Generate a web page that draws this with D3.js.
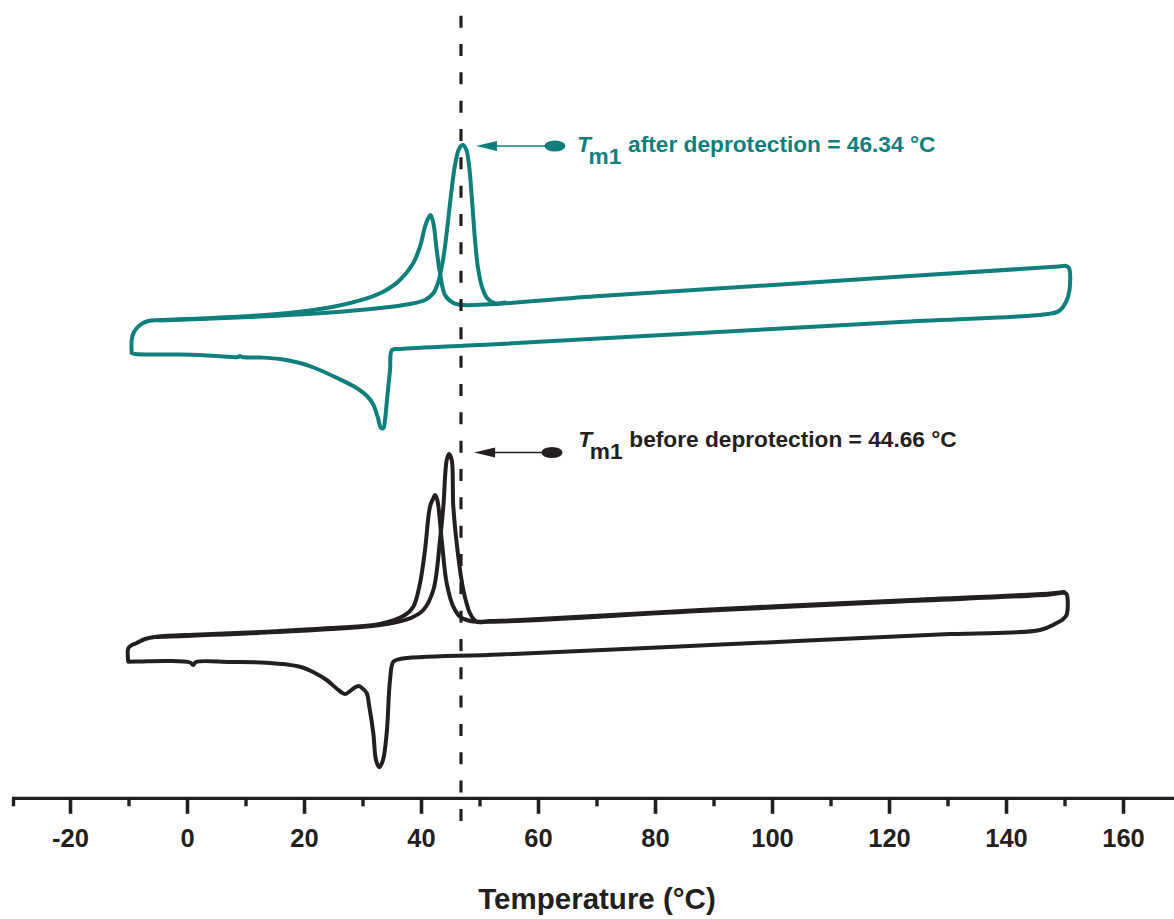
<!DOCTYPE html>
<html>
<head>
<meta charset="utf-8">
<script src="https://cdn.jsdelivr.net/npm/d3@7"></script>
<style>
  html, body { margin: 0; padding: 0; background: #fff; }
  svg { display: block; }
  text { font-family: "Liberation Sans", Arial, Helvetica, sans-serif; font-weight: bold; }
</style>
</head>
<body>
<svg id="chart" width="1174" height="919"></svg>
<script>
// ---------- DATA (temperature °C, heat flow in arbitrary units) ----------
// After deprotection (teal): heating run 1 + cooling run form a closed loop
const afterLoopT = [-9.54,-9.54,-9.15,-8.12,-6.75,-4.70,2.14,10.68,19.23,24.92,30.63,33.47,36.32,38.60,39.74,40.60,41.16,41.54,42.02,42.60,43.16,44.02,45.38,47.09,70.51,104.70,148.90,150.17,150.68,150.77,150.17,148.97,147.09,121.79,87.61,53.42,36.32,34.96,34.62,34.10,33.76,33.50,33.08,32.56,31.71,30.68,28.63,25.21,21.79,19.23,15.81,12.39,9.32,8.97,8.63,2.14,-2.99,-8.97,-9.54];
const afterLoopHF = [44.7,46.0,46.8,47.5,47.9,48.0,48.15,48.4,48.83,49.33,50.17,50.83,52.0,53.7,55.33,57.33,58.2,58.5,57.7,55.0,52.7,50.5,49.73,49.5,50.39,51.68,53.35,53.4,53.2,51.0,49.8,48.9,48.6,47.8,46.7,45.6,45.1,45.0,43.0,40.0,38.0,37.2,37.2,38.2,39.6,40.4,41.3,42.3,43.2,43.7,44.1,44.25,44.3,44.4,44.3,44.5,44.55,44.6,44.7];
// After deprotection: heating run 2 (Tm1 peak)
const afterHeat2T = [-4.70,10.68,24.36,32.91,38.03,40.60,42.02,42.87,43.73,44.36,45.04,45.73,46.41,47.04,47.61,48.12,48.63,49.15,49.66,50.34,51.20,52.56,54.27];
const afterHeat2HF = [47.95,48.3,48.75,49.2,49.6,50.0,50.67,51.8,54.2,57.0,60.5,63.5,65.1,65.5,65.1,63.5,60.0,56.0,53.2,51.3,50.2,49.68,49.745];

// Before deprotection (black): heating run 1 + cooling run loop
const beforeLoopT = [-10.12,-10.12,-9.49,-8.68,-7.26,-5.26,2.14,13.54,24.36,32.91,37.18,38.60,39.74,40.60,41.45,42.02,42.31,42.70,43.45,44.31,45.44,46.58,47.73,49.44,87.61,121.79,147.44,149.83,150.26,150.26,149.49,148.58,145.73,130.34,87.61,53.42,36.32,35.18,34.62,34.05,33.42,32.79,32.22,31.76,31.03,30.63,29.83,29.20,28.46,26.92,25.38,23.79,21.45,19.23,13.54,7.26,1.45,0.99,0.43,-3.56,-8.12,-10.12];
const beforeLoopHF = [13.83,15.17,15.5,15.7,16.1,16.33,16.55,16.83,17.2,17.6,18.5,19.33,21.67,25.0,29.33,30.17,30.5,30.0,26.0,21.67,19.33,18.33,18.0,17.83,18.9,19.85,20.55,20.73,20.6,18.5,18.0,17.7,17.0,16.59,15.45,14.55,14.1,13.83,12.0,6.7,4.0,3.27,4.0,6.7,9.5,10.7,11.2,11.4,11.2,10.6,11.2,12.0,12.8,13.33,13.73,13.8,13.8,13.5,13.75,13.9,13.85,13.83];
// Before deprotection: heating run 2 (Tm1 peak)
const beforeHeat2T = [-5.26,13.54,32.91,38.03,40.31,42.02,43.16,43.73,44.31,44.70,45.16,45.44,46.29,47.15,48.29,49.44,51.71,56.84,87.61,121.79,147.44,149.83];
const beforeHeat2HF = [16.3,16.75,17.5,18.17,19.0,21.0,26.0,29.33,34.0,34.6,34.0,29.33,24.33,21.0,18.67,17.83,17.9,18.0,19.0,19.95,20.65,20.8];

// Axis ticks
const majorTicks = [-20, 0, 20, 40, 60, 80, 100, 120, 140, 160];
const minorTicks = [-30, -10, 10, 30, 50, 70, 90, 110, 130, 150];
const xDomain = [-30, 168.63];
const hfDomain = [0, 80];

// Annotations
const tmLine = 46.75;           // dashed marker temperature
const annotations = [
  { label: "after deprotection = 46.34 °C", color: "#0f7f7e", tipT: 49.3, dotT: 62.8, hf: 65.4, textT: 66.6, textHF: 64.8 },
  { label: "before deprotection = 44.66 °C", color: "#231f20", tipT: 49.0, dotT: 62.3, hf: 34.75, textT: 66.8, textHF: 35.3 }
];
const xTitle = "Temperature (°C)";

// ---------- DRAW ----------
const svg = d3.select("#chart");
const x = d3.scaleLinear().domain(xDomain).range([12, 1174]);
const y = d3.scaleLinear().domain(hfDomain).range([800, 0]);

const teal = "#0f7f7e", dark = "#231f20";
const zip = (a, b) => a.map((t, i) => [t, b[i]]);
const line = d3.line().x(d => x(d[0])).y(d => y(d[1])).curve(d3.curveCatmullRom.alpha(0.5));

const series = [
  { pts: zip(afterLoopT, afterLoopHF), color: teal },
  { pts: zip(afterHeat2T, afterHeat2HF), color: teal },
  { pts: zip(beforeLoopT, beforeLoopHF), color: dark },
  { pts: zip(beforeHeat2T, beforeHeat2HF), color: dark }
];
svg.append("g").selectAll("path").data(series).join("path")
  .attr("d", d => line(d.pts))
  .attr("fill", "none")
  .attr("stroke", d => d.color)
  .attr("stroke-width", 4)
  .attr("stroke-linejoin", "round")
  .attr("stroke-linecap", "round");

// dashed marker line
svg.append("line")
  .attr("x1", x(tmLine)).attr("x2", x(tmLine))
  .attr("y1", 15.7).attr("y2", 821)
  .attr("stroke", dark).attr("stroke-width", 3.2)
  .attr("stroke-dasharray", "12,16.33");

// x axis
const axisY = 798.3;
const gAxis = svg.append("g").attr("transform", `translate(0,${axisY})`);
gAxis.append("line").attr("x1", 12).attr("x2", 1174).attr("y1", 0).attr("y2", 0)
  .attr("stroke", dark).attr("stroke-width", 3.3);
gAxis.selectAll("line.major").data(majorTicks).join("line").attr("class", "major")
  .attr("x1", d => x(d)).attr("x2", d => x(d)).attr("y1", 0).attr("y2", 15.5)
  .attr("stroke", dark).attr("stroke-width", 3.6);
gAxis.selectAll("line.minor").data(minorTicks).join("line").attr("class", "minor")
  .attr("x1", d => x(d) + (d === -30 ? 1.5 : 0)).attr("x2", d => x(d) + (d === -30 ? 1.5 : 0))
  .attr("y1", 0).attr("y2", 8)
  .attr("stroke", dark).attr("stroke-width", 3.4);
gAxis.selectAll("text").data(majorTicks).join("text")
  .attr("x", d => x(d)).attr("y", 48.4)
  .attr("text-anchor", "middle")
  .attr("font-size", 25.5)
  .attr("fill", dark)
  .text(d => d);

svg.append("text")
  .attr("x", 597).attr("y", 909)
  .attr("text-anchor", "middle")
  .attr("font-size", 29.5)
  .attr("fill", dark)
  .text(xTitle);

// annotations
annotations.forEach(a => {
  const g = svg.append("g");
  const yy = y(a.hf);
  const tip = x(a.tipT), dot = x(a.dotT);
  g.append("line").attr("x1", tip + 18).attr("x2", dot).attr("y1", yy).attr("y2", yy)
    .attr("stroke", a.color).attr("stroke-width", 1.6);
  g.append("path")
    .attr("d", `M${tip},${yy} L${tip + 21},${yy - 5} L${tip + 21},${yy + 5} Z`)
    .attr("fill", a.color);
  g.append("ellipse").attr("cx", dot).attr("cy", yy).attr("rx", 10.5).attr("ry", 5.5)
    .attr("fill", a.color);
  const tx = x(a.textT), ty = y(a.textHF);
  const t = g.append("text").attr("fill", a.color).attr("font-size", 22.7);
  t.append("tspan").attr("x", tx).attr("y", ty).attr("font-style", "italic").text("T");
  t.append("tspan").attr("x", tx + 11.5).attr("y", ty + 12).text("m1");
  t.append("tspan").attr("x", tx + 51).attr("y", ty).text(a.label);
});
</script>
</body>
</html>
